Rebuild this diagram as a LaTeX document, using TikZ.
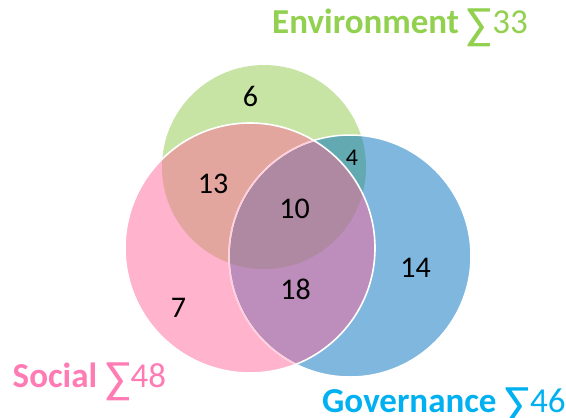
\documentclass[tikz,border=0pt]{standalone}
\usepackage{fontspec}
\usepackage{graphicx}
\setmainfont{Carlito}
\definecolor{gonly}{HTML}{C8E4A5}
\definecolor{ponly}{HTML}{FFB3CC}
\definecolor{bonly}{HTML}{80B7DE}
\definecolor{gp}{HTML}{E3A69F}
\definecolor{gb}{HTML}{62A9B1}
\definecolor{pb}{HTML}{BD8DBB}
\definecolor{gpb}{HTML}{AF89A1}
\definecolor{envcol}{HTML}{92D050}
\definecolor{soccol}{HTML}{FF7BB4}
\definecolor{govcol}{HTML}{00B0F0}
\definecolor{blueline}{HTML}{FFCFDF}
\tikzset{
  num/.style={anchor=base, inner sep=0pt, font=\fontsize{30}{36}\selectfont},
  smallnum/.style={anchor=base, inner sep=0pt, font=\fontsize{24}{28}\selectfont},
  lbl/.style={anchor=base west, inner sep=0pt, font=\fontsize{35}{40}\selectfont\bfseries},
}
\newcommand{\sumval}[1]{{\mdseries\raisebox{-6pt}{\scalebox{1.35}[1.3]{∑}}#1}}
\begin{document}
\begin{tikzpicture}[x=1pt,y=-1pt]
\useasboundingbox (0,0) rectangle (566,418);
\def\CG{(264,167) circle[radius=102pt]}
\def\CP{(250,248) circle[radius=125pt]}
\def\CB{(350,256) circle[radius=121pt]}
\fill[gonly] \CG;
\fill[ponly] \CP;
\fill[bonly] \CB;
\begin{scope}
  \clip \CG;
  \fill[gp] \CP;
  \fill[gb] \CB;
\end{scope}
\begin{scope}
  \clip \CP;
  \fill[pb] \CB;
  \clip \CG;
  \fill[gpb] \CB;
\end{scope}
\draw[white, line width=1.5pt] \CB;
\begin{scope}
  \clip \CP;
  \draw[blueline, line width=1.5pt] \CB;
\end{scope}
\draw[white, line width=1.6pt] \CP;
\node[num] (n6) at (250.5,106.7) {6};
\node[num] (n13) at (213,193) {13};
\node[smallnum] (n4) at (352,165) {4};
\node[num] (n10) at (294.5,218.5) {10};
\node[num] (n18) at (295.5,299) {18};
\node[num] (n14) at (415.5,277) {14};
\node[num] (n7) at (178.5,317) {7};
\node[lbl, text=envcol] (env) at (272,33.3) {Environment \sumval{33}};
\node[lbl, text=soccol] (soc) at (12.5,387) {Social \sumval{48}};
\node[lbl, text=govcol] (gov) at (322,412.7) {Governance \sumval{46}};
\end{tikzpicture}
\end{document}
